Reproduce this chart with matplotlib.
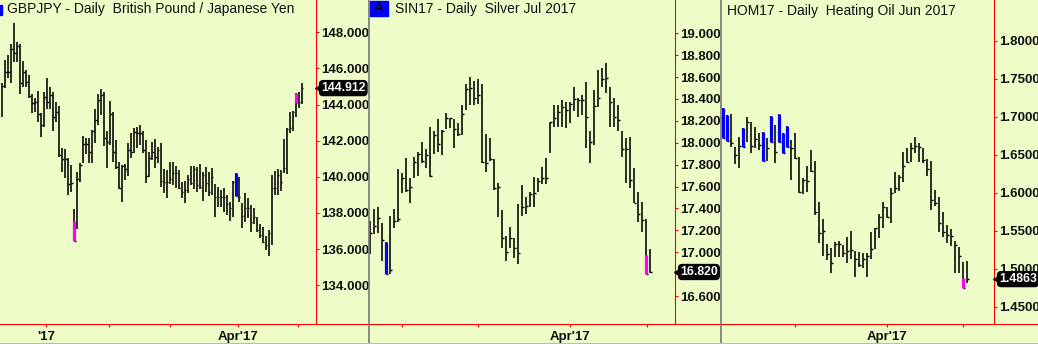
import matplotlib.pyplot as plt
import matplotlib.transforms as mtransforms
from matplotlib.lines import Line2D
from matplotlib.patches import Rectangle

# ---- GBPJPY daily (high / low / close) ----
gbp_high = [145.18, 146.47, 146.75, 147.34, 148.52, 147.48, 147.34, 146.41, 145.92, 145.64,
            144.57, 144.35, 144.75, 143.52, 144.72, 145.45, 144.99, 144.68, 144.16, 143.94,
            141.58, 141.54, 141.03, 140.66, 138.22, 140.29, 140.79, 142.28, 142.13, 142.17,
            142.59, 143.76, 144.59, 144.86, 144.72, 142.54, 144.20, 143.57, 142.04, 140.84,
            140.66, 140.69, 141.86, 142.41, 142.69, 142.78, 142.87, 142.54, 142.04, 141.36,
            141.95, 142.10, 141.64, 141.86, 140.44, 140.38, 140.84, 140.81, 140.60, 140.38,
            139.73, 139.79, 140.10, 140.60, 140.60, 140.57, 140.71, 140.25, 140.53, 140.29,
            140.47, 139.59, 139.42, 139.27, 139.37, 139.00, 138.63, 139.77, 140.20, 139.97,
            138.57, 139.09, 138.85, 138.44, 138.30, 137.80, 137.37, 137.21, 136.75, 137.06,
            140.10, 140.33, 140.44, 140.38, 142.08, 142.69, 143.57, 143.66, 144.66, 144.72,
            145.18]
gbp_low = [143.33, 144.94, 145.49, 145.21, 146.38, 146.38, 144.57, 144.99, 144.99, 144.35,
           143.52, 143.61, 143.06, 142.23, 142.78, 143.74, 143.74, 142.56, 143.06, 141.12,
           140.25, 139.96, 139.00, 139.18, 136.47, 137.10, 139.73, 140.75, 141.25, 140.79,
           140.79, 141.86, 142.87, 143.42, 141.73, 140.51, 141.76, 140.84, 140.44, 139.33,
           138.59, 139.83, 140.05, 141.06, 141.30, 141.58, 141.76, 141.30, 139.68, 140.01,
           140.93, 140.51, 140.75, 139.46, 139.09, 138.85, 139.59, 139.55, 139.37, 139.33,
           138.81, 138.54, 139.09, 139.55, 139.33, 139.18, 139.33, 138.66, 139.14, 138.96,
           139.00, 137.80, 138.35, 138.31, 138.07, 137.89, 137.58, 137.80, 138.96, 138.59,
           137.15, 137.52, 137.71, 136.97, 137.37, 136.97, 136.60, 136.32, 135.95, 135.64,
           136.23, 139.00, 139.00, 139.22, 140.20, 140.14, 142.41, 142.54, 143.33, 143.83,
           144.02]
gbp_close = [145.03, 145.82, 145.82, 147.06, 146.84, 147.24, 145.18, 145.82, 145.27, 144.49,
             144.07, 144.13, 143.46, 142.87, 144.44, 144.16, 144.53, 143.33, 143.61, 141.21,
             140.99, 140.99, 139.59, 139.64, 136.47, 139.88, 140.66, 141.82, 141.82, 141.40,
             142.54, 143.13, 144.26, 144.53, 142.13, 141.95, 143.48, 141.36, 140.57, 139.37,
             140.62, 140.42, 141.49, 141.40, 142.50, 142.41, 142.41, 141.49, 140.05, 141.03,
             141.40, 141.12, 141.49, 139.79, 139.73, 139.73, 139.86, 140.20, 140.20, 139.40,
             139.18, 139.27, 139.86, 139.64, 140.42, 139.55, 139.46, 140.10, 139.64, 139.18,
             140.01, 138.87, 138.90, 138.90, 138.90, 138.48, 138.30, 139.70, 138.96, 138.87,
             137.83, 138.30, 138.26, 137.52, 137.80, 137.06, 136.78, 136.41, 136.23, 136.88,
             139.37, 139.37, 140.10, 139.73, 140.47, 142.65, 142.72, 143.61, 144.07, 144.13,
             144.91]
# painted bars: (bar index, top, bottom, colour)
gbp_paint = [(24, 137.56, 136.47, '#ff00ff'), (78, 140.20, 138.96, '#0000ff'),
             (98, 144.66, 144.11, '#ff00ff')]
gbp_ticks = [14.8, 35.8, 56.1, 78.8, 98.8]
gbp_ticklabels = ["'17", '', '', "Apr'17", '']
gbp_yticks = [134, 136, 138, 140, 142, 144, 146, 148]
gbp_last = '144.912'

# ---- Silver Jul 2017 ----
si_high = [17.289, 17.396, 17.417, 17.265, 17.091, 17.332, 17.396, 17.761, 17.721, 17.858,
           17.676, 17.874, 17.913, 18.004, 17.941, 18.148, 18.108, 18.214, 18.117, 18.269,
           18.230, 18.218, 18.178, 18.345, 18.534, 18.604, 18.565, 18.583, 18.534, 18.078,
           18.041, 17.852, 17.630, 17.387, 17.152, 17.234, 17.134, 17.441, 17.615, 17.508,
           17.548, 17.691, 17.682, 17.782, 17.858, 18.193, 18.345, 18.345, 18.391, 18.376,
           18.376, 18.507, 18.406, 18.437, 18.559, 18.108, 18.482, 18.665, 18.680, 18.726,
           18.513, 18.406, 18.345, 18.108, 18.041, 18.056, 17.767, 17.548, 17.457, 17.301,
           17.030]
si_low = [16.985, 17.167, 17.173, 16.924, 16.802, 16.802, 17.219, 17.280, 17.539, 17.554,
          17.453, 17.682, 17.700, 17.813, 17.767, 17.691, 17.898, 17.919, 17.889, 18.126,
          18.132, 17.956, 18.065, 18.071, 18.300, 18.345, 18.345, 18.352, 17.813, 17.737,
          17.834, 17.569, 17.320, 17.043, 16.921, 17.043, 16.945, 16.893, 17.335, 17.347,
          17.417, 17.417, 17.554, 17.621, 17.621, 17.904, 18.148, 18.148, 18.148, 18.138,
          18.178, 18.291, 18.239, 18.254, 17.950, 17.813, 17.980, 18.330, 18.513, 18.452,
          18.148, 18.148, 18.108, 17.874, 17.630, 17.590, 17.447, 17.280, 17.189, 16.802,
          16.808]
si_close = [17.180, 17.240, 17.310, 17.113, 16.802, 16.839, 17.286, 17.301, 17.682, 17.569,
            17.600, 17.828, 17.895, 17.834, 17.889, 17.697, 18.071, 17.986, 18.108, 18.230,
            18.224, 18.123, 18.078, 18.260, 18.492, 18.498, 18.412, 18.437, 17.822, 17.813,
            17.852, 17.584, 17.600, 17.128, 17.006, 17.134, 17.043, 16.997, 17.417, 17.426,
            17.530, 17.539, 17.651, 17.676, 17.676, 18.187, 18.224, 18.278, 18.330, 18.300,
            18.352, 18.397, 18.391, 18.391, 18.239, 18.011, 18.339, 18.412, 18.583, 18.595,
            18.376, 18.239, 18.208, 17.944, 17.944, 17.660, 17.447, 17.347, 17.295, 16.802,
            16.820]
si_paint = [(4, 17.091, 16.802, '#0000ff'), (69, 16.976, 16.802, '#ff00ff')]
si_ticks = [7.9, 26.9, 49.9, 69.2]
si_ticklabels = ['', '', "Apr'17", '']
si_yticks = [16.6, 16.8, 17.0, 17.2, 17.4, 17.6, 17.8, 18.0, 18.2, 18.4, 18.6, 18.8, 19.0]
si_hidden = [16.8]   # sits under the last-price tag
si_last = '16.820'

# ---- Heating Oil Jun 2017 ----
ho_high = [1.7110, 1.7022, 1.7036, 1.6606, 1.6737, 1.6847, 1.6992, 1.6926, 1.6869, 1.6781,
           1.6794, 1.6715, 1.7009, 1.6891, 1.7036, 1.6781, 1.6878, 1.6693, 1.6781, 1.6474,
           1.6189, 1.6351, 1.6562, 1.6421, 1.5882, 1.5650, 1.5325, 1.5268, 1.5356, 1.5369,
           1.5312, 1.5413, 1.5496, 1.5237, 1.5224, 1.5202, 1.5202, 1.5478, 1.5540, 1.5715,
           1.5873, 1.5816, 1.6057, 1.6277, 1.6233, 1.6531, 1.6584, 1.6658, 1.6737, 1.6658,
           1.6584, 1.6439, 1.6417, 1.6035, 1.5939, 1.5751, 1.5575, 1.5518, 1.5369, 1.5290,
           1.5093, 1.5106]
ho_low = [1.6724, 1.6685, 1.6606, 1.6373, 1.6321, 1.6606, 1.6672, 1.6518, 1.6584, 1.6562,
          1.6421, 1.6421, 1.6672, 1.6386, 1.6672, 1.6527, 1.6597, 1.6167, 1.6439, 1.6000,
          1.5979, 1.6014, 1.6277, 1.5707, 1.5334, 1.5171, 1.5114, 1.4939, 1.5158, 1.5158,
          1.5150, 1.5071, 1.5123, 1.4895, 1.5027, 1.5005, 1.4895, 1.5123, 1.5255, 1.5400,
          1.5540, 1.5663, 1.5597, 1.5992, 1.6022, 1.6145, 1.6386, 1.6408, 1.6518, 1.6408,
          1.6395, 1.6220, 1.5772, 1.5825, 1.5487, 1.5421, 1.5334, 1.5299, 1.4948, 1.4948,
          1.4742, 1.4808]
ho_close = [1.6724, 1.6685, 1.6650, 1.6496, 1.6614, 1.6606, 1.6935, 1.6614, 1.6707, 1.6628,
            1.6421, 1.6584, 1.6672, 1.6540, 1.6672, 1.6527, 1.6597, 1.6584, 1.6452, 1.6014,
            1.6167, 1.6154, 1.6290, 1.5742, 1.5465, 1.5500, 1.5193, 1.5071, 1.5321, 1.5325,
            1.5202, 1.5233, 1.5246, 1.5123, 1.5049, 1.5123, 1.5167, 1.5255, 1.5531, 1.5685,
            1.5807, 1.5685, 1.5992, 1.6057, 1.6202, 1.6351, 1.6408, 1.6584, 1.6614, 1.6597,
            1.6430, 1.6307, 1.5904, 1.5869, 1.5606, 1.5487, 1.5443, 1.5430, 1.5312, 1.5167,
            1.4742, 1.4863]
ho_blue = [0, 1, 5, 10, 12, 14, 15, 16]
ho_paint = [(i, ho_high[i], ho_low[i], '#0000ff') for i in ho_blue] + [(60, 1.4873, 1.4742, '#ff00ff')]
ho_ticks = [17.9, 40.9, 59.9]
ho_ticklabels = ['', "Apr'17", '']
ho_yticks = [1.45, 1.50, 1.55, 1.60, 1.65, 1.70, 1.75, 1.80]
ho_last = '1.4863'

BG = '#eefcc8'
W, H = 1038, 344


def rect(x0, y0, w, h):
    # pixel box with top-left origin -> figure fraction
    return [x0 / W, 1 - (y0 + h) / H, w / W, h / H]


def draw_bars(ax, high, low, close, paint, tick):
    xs = list(range(len(high)))
    ax.vlines(xs, low, high, color='black', lw=1.15)
    ax.hlines(close, xs, [x + tick for x in xs], color='black', lw=1.0)
    for i, top, bot, c in paint:
        ax.vlines(i, bot, top, color=c, lw=2.3, zorder=3)


def setup(ax, xlim, ylim, yticks, fmt, xticks, xlabels, hidden=()):
    ax.set_facecolor(BG)
    ax.set_xlim(xlim)
    ax.set_ylim(ylim)
    ax.spines['left'].set_visible(False)
    ax.spines['top'].set_visible(False)
    ax.spines['right'].set_color('red')
    ax.spines['bottom'].set_color('red')
    ax.spines['right'].set_linewidth(0.8)
    ax.spines['bottom'].set_linewidth(0.8)
    ax.yaxis.tick_right()
    labels = ['' if v in hidden else fmt.format(v) for v in yticks]
    ax.set_yticks(yticks, labels=labels, fontweight='bold')
    ax.set_xticks(xticks, labels=xlabels, fontweight='bold')
    ax.tick_params(axis='both', direction='out', length=2.2, width=0.8, color='red',
                   labelsize=9.5, labelcolor='#111111')
    ax.tick_params(axis='y', pad=1.4)
    ax.tick_params(axis='x', pad=3)


def price_tag(fig, ax, value, text):
    trans = mtransforms.offset_copy(ax.get_yaxis_transform(), fig=fig, x=3, y=0, units='dots')
    ax.plot([1.0], [value], marker='<', ms=5.5, color='black', transform=trans,
            clip_on=False, zorder=5)
    ax.annotate(text, xy=(1.0, value), xycoords=ax.get_yaxis_transform(),
                xytext=(5, 0), textcoords='offset pixels', ha='left', va='center',
                color='white', fontsize=8.8, fontweight='bold', zorder=6,
                annotation_clip=False,
                bbox=dict(boxstyle='round,pad=0.12,rounding_size=0.3', fc='black', ec='black'))


def main():
    plt.rcParams.update({'font.family': 'Liberation Sans'})
    fig = plt.figure(figsize=(W / 100, H / 100), dpi=100, facecolor=BG)

    ax1 = fig.add_axes(rect(0, 0, 316, 324))
    setup(ax1, (-0.57, 104.77), (131.857, 149.787), gbp_yticks, '{:.3f}', gbp_ticks, gbp_ticklabels)
    draw_bars(ax1, gbp_high, gbp_low, gbp_close, gbp_paint, 0.6)
    price_tag(fig, ax1, float(gbp_last), gbp_last)

    ax2 = fig.add_axes(rect(369, 0, 306, 324))
    setup(ax2, (-0.325, 76.175), (16.345, 19.304), si_yticks, '{:.3f}', si_ticks, si_ticklabels,
          hidden=si_hidden)
    draw_bars(ax2, si_high, si_low, si_close, si_paint, 0.45)
    price_tag(fig, ax2, float(si_last), si_last)

    ax3 = fig.add_axes(rect(721, 0, 273, 324))
    setup(ax3, (-0.575, 67.675), (1.4272, 1.8536), ho_yticks, '{:.4f}', ho_ticks, ho_ticklabels)
    draw_bars(ax3, ho_high, ho_low, ho_close, ho_paint, 0.45)
    price_tag(fig, ax3, float(ho_last), ho_last)

    # red baseline runs under the axis labels up to each panel edge
    for x0, x1 in [(316, 368), (675, 720), (994, 1038)]:
        fig.add_artist(Line2D([x0 / W, x1 / W], [1 - 324 / H] * 2, color='red', lw=0.8))

    # grey panel borders
    for xb in [368.5, 720.5]:
        fig.add_artist(Line2D([xb / W] * 2, [0, 1], color='#777777', lw=1.2))
    fig.add_artist(Line2D([0, 1], [1 - 342.5 / H] * 2, color='#bbbbbb', lw=0.8))

    # titles
    fig.add_artist(Rectangle((0, 1 - 15 / H), 2 / W, 10 / H, color='#0000ff'))
    fig.text(7 / W, 1 - 9 / H, 'GBPJPY - Daily  British Pound / Japanese Yen',
             fontsize=10, va='center', ha='left', color='#111111')
    fig.add_artist(Rectangle((369.5 / W, 1 - 16 / H), 18 / W, 15 / H, color='#0000ff'))
    fig.text(378.5 / W, 1 - 8.5 / H, 'A', fontsize=10, va='center', ha='center', color='black')
    fig.text(395 / W, 1 - 9 / H, 'SIN17 - Daily  Silver Jul 2017',
             fontsize=10, va='center', ha='left', color='#111111')
    fig.text(727 / W, 1 - 10.5 / H, 'HOM17 - Daily  Heating Oil Jun 2017',
             fontsize=10, va='center', ha='left', color='#111111')

    fig.savefig('out.png', dpi=100, facecolor=BG)


if __name__ == '__main__':
    main()
